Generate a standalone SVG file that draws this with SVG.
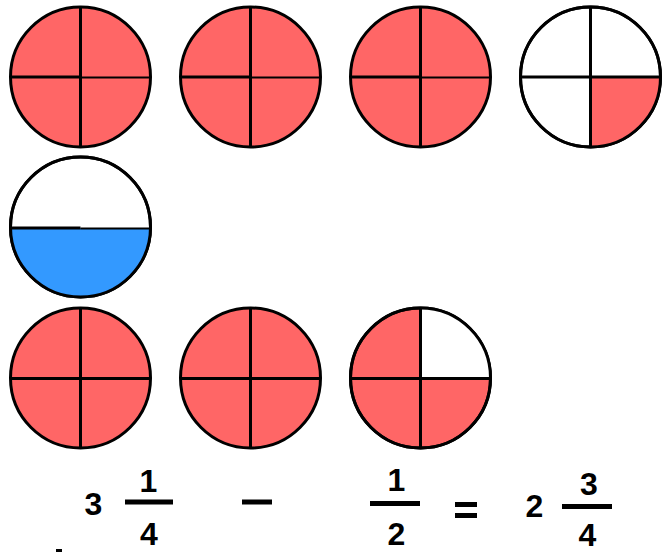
<svg xmlns="http://www.w3.org/2000/svg" width="662" height="552" viewBox="0 0 662 552">
<style>
.ring{stroke:#000;stroke-width:3}
.div{stroke:#000;stroke-width:3}
.thin{stroke:#000;stroke-width:2}
.red{fill:#ff6666}
.white{fill:#ffffff}
.blue{fill:#3399ff}
.num{font-family:"Liberation Sans",Arial,sans-serif;font-weight:bold;font-size:32px;fill:#000;text-anchor:middle}
.bar{stroke:#000;stroke-width:5}
</style>
<rect width="662" height="552" fill="#fff"/>
<g id="r1c1">
<circle class="ring red" cx="80.5" cy="77" r="70"/>
<line class="div" x1="80.5" y1="7" x2="80.5" y2="147"/>
<line class="div" x1="10.5" y1="77" x2="80.5" y2="77"/>
<line class="thin" x1="80.5" y1="77.5" x2="150.5" y2="77.5"/>
</g>
<g id="r1c2">
<circle class="ring red" cx="250.5" cy="77" r="70"/>
<line class="div" x1="250.5" y1="7" x2="250.5" y2="147"/>
<line class="div" x1="180.5" y1="77" x2="250.5" y2="77"/>
<line class="thin" x1="250.5" y1="77.5" x2="320.5" y2="77.5"/>
</g>
<g id="r1c3">
<circle class="ring red" cx="420.5" cy="77" r="70"/>
<line class="div" x1="420.5" y1="7" x2="420.5" y2="147"/>
<line class="div" x1="350.5" y1="77" x2="420.5" y2="77"/>
<line class="thin" x1="420.5" y1="77.5" x2="490.5" y2="77.5"/>
</g>
<g id="r1c4">
<circle class="ring white" cx="590.5" cy="77" r="70"/>
<path class="red" d="M590.5 77 H660.5 A70 70 0 0 1 590.5 147 Z"/>
<circle cx="590.5" cy="77" r="70" fill="none" class="ring"/>
<line class="div" x1="590.5" y1="7" x2="590.5" y2="147"/>
<line class="div" x1="520.5" y1="77" x2="660.5" y2="77"/>
</g>
<g id="half">
<circle class="ring white" cx="80.5" cy="227" r="70"/>
<path class="blue" d="M10.5 228 H150.5 A70 70 0 0 1 10.5 228 Z"/>
<circle cx="80.5" cy="227" r="70" fill="none" class="ring"/>
<line class="div" x1="10.5" y1="228" x2="80.5" y2="228"/>
<line class="thin" x1="80.5" y1="228.5" x2="150.5" y2="228.5"/>
</g>
<g id="r3c1">
<circle class="ring red" cx="80.5" cy="378" r="70"/>
<line class="div" x1="80.5" y1="308" x2="80.5" y2="448"/>
<line class="div" x1="10.5" y1="378.5" x2="150.5" y2="378.5"/>
</g>
<g id="r3c2">
<circle class="ring red" cx="250.5" cy="378" r="70"/>
<line class="div" x1="250.5" y1="308" x2="250.5" y2="448"/>
<line class="div" x1="180.5" y1="378.5" x2="320.5" y2="378.5"/>
</g>
<g id="r3c3">
<circle class="ring red" cx="420.5" cy="378" r="70"/>
<path class="white" d="M420.5 378 V308 A70 70 0 0 1 490.5 378 Z"/>
<circle cx="420.5" cy="378" r="70" fill="none" class="ring"/>
<line class="div" x1="420.5" y1="308" x2="420.5" y2="448"/>
<line class="div" x1="350.5" y1="378.5" x2="490.5" y2="378.5"/>
</g>
<g id="equation">
<text class="num" x="93.5" y="515">3</text>
<text class="num" x="148.5" y="492">1</text>
<line class="bar" x1="125" y1="502" x2="173" y2="502"/>
<text class="num" x="149" y="545">4</text>
<line class="bar" x1="242" y1="502" x2="272" y2="502"/>
<text class="num" x="396.5" y="491">1</text>
<line class="bar" x1="370" y1="503.5" x2="420" y2="503.5"/>
<text class="num" x="396.5" y="545">2</text>
<line class="bar" x1="455" y1="504.5" x2="477" y2="504.5"/>
<line class="bar" x1="455" y1="515.5" x2="477" y2="515.5"/>
<text class="num" x="534.5" y="517">2</text>
<text class="num" x="589" y="495">3</text>
<line class="bar" x1="562" y1="506.5" x2="612" y2="506.5"/>
<text class="num" x="587.5" y="545.5">4</text>
</g>
<rect x="56" y="549" width="6" height="3" fill="#000"/>
</svg>
